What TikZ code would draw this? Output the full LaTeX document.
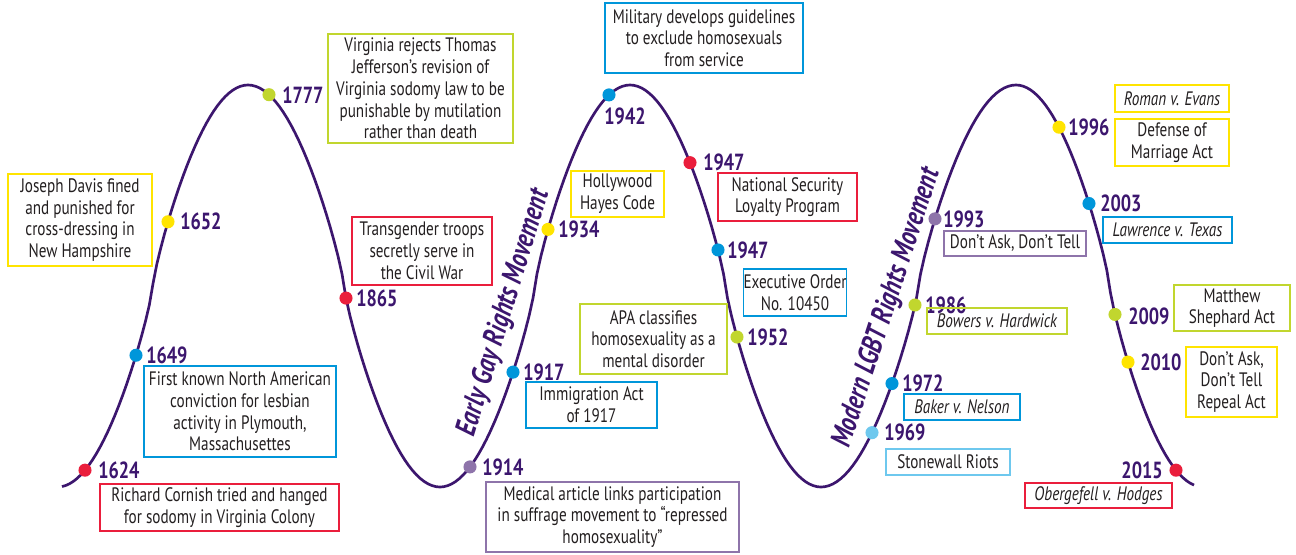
\documentclass[tikz,border=0pt]{standalone}
\usepackage{fontspec}
\setmainfont{PT Sans}[FakeStretch=0.78]
\usetikzlibrary{calc}
\definecolor{cpurple}{RGB}{60,22,110}
\definecolor{cred}{RGB}{234,30,60}
\definecolor{cblue}{RGB}{0,150,218}
\definecolor{cyellow}{RGB}{255,228,0}
\definecolor{cgreen}{RGB}{193,214,46}
\definecolor{clav}{RGB}{142,116,170}
\definecolor{clight}{RGB}{110,200,238}
\definecolor{ctext}{RGB}{35,31,32}
\begin{document}
\begin{tikzpicture}[x=0.75pt,y=-0.75pt,
  declare function={wc(\x,\m,\n)=cos((\x-\m)/\n*180);
                    wv(\x,\m,\n)=286-201*wc(\x,\m,\n)*exp(-0.18*ln(abs(wc(\x,\m,\n))+0.0001));},
  curve/.style={draw=cpurple,line width=2pt},
  dot/.style={circle,fill=#1,inner sep=0pt,minimum size=9.8pt},
  yr/.style={font=\fontsize{17.5}{19}\selectfont\bfseries,text=cpurple,inner sep=0pt},
  ev/.style={draw=#1,line width=1.2pt,inner sep=0pt,align=center,text=ctext,font=\fontsize{14.6}{16.3}\selectfont},
  evi/.style={ev=#1,font=\fontsize{14.6}{16.3}\selectfont\itshape},
  mv/.style={font=\fontsize{22}{23}\selectfont\bfseries\itshape,text=cpurple,inner sep=0pt},
]
\path[use as bounding box,fill=white] (0,0) rectangle (1296,554);

% the wave
\draw[curve] plot[domain=62:248,samples=50] (\x,{wv(\x,248,190.5)})
  -- plot[domain=248:440,samples=50] (\x,{wv(\x,248,192)})
  -- plot[domain=440:630,samples=50] (\x,{wv(\x,630,190)})
  -- plot[domain=630:821,samples=50] (\x,{wv(\x,630,191)})
  -- plot[domain=821:1016,samples=50] (\x,{wv(\x,1016,195)})
  -- plot[domain=1016:1194,samples=50] (\x,{wv(\x,1016,187)});

% movement labels
\node[mv,rotate=73] (m1) at (504,313) {Early Gay Rights Movement};
\node[mv,rotate=72] (m2) at (887,308) {Modern LGBT Rights Movement};

% dots
\node[dot=cred]    (d1624) at (85,{wv(85,248,190.5)}) {};
\node[dot=cblue]   (d1649) at (136,{wv(136,248,190.5)}) {};
\node[dot=cyellow] (d1652) at (168,{wv(168,248,190.5)}) {};
\node[dot=cgreen]  (d1777) at (269,{wv(269,248,192)}) {};
\node[dot=cred]    (d1865) at (346,{wv(346,248,192)}) {};
\node[dot=clav]    (d1914) at (470,{wv(470,630,190)}) {};
\node[dot=cblue]   (d1917) at (513,{wv(513,630,190)}) {};
\node[dot=cyellow] (d1934) at (548,{wv(548,630,190)}) {};
\node[dot=cblue]   (d1942) at (609,{wv(609,630,190)}) {};
\node[dot=cred]    (d1947a) at (690,{wv(690,630,191)}) {};
\node[dot=cblue]   (d1947b) at (718,{wv(718,630,191)}) {};
\node[dot=cgreen]  (d1952) at (737,{wv(737,630,191)}) {};
\node[dot=clight]  (d1969) at (872,{wv(872,1016,195)}) {};
\node[dot=cblue]   (d1972) at (892,{wv(892,1016,195)}) {};
\node[dot=cgreen]  (d1986) at (915,{wv(915,1016,195)}) {};
\node[dot=clav]    (d1993) at (935,{wv(935,1016,195)}) {};
\node[dot=cyellow] (d1996) at (1059,{wv(1059,1016,187)}) {};
\node[dot=cblue]   (d2003) at (1089,{wv(1089,1016,187)}) {};
\node[dot=cgreen]  (d2009) at (1115,{wv(1115,1016,187)}) {};
\node[dot=cyellow] (d2010) at (1128,{wv(1128,1016,187)}) {};
\node[dot=cred]    (d2015) at (1176,{wv(1176,1016,187)}) {};

% year labels
\node[yr,anchor=west] (y1624) at ($(d1624)+(13,0)$) {1624};
\node[yr,anchor=west] (y1649) at ($(d1649)+(10,0)$) {1649};
\node[yr,anchor=west] (y1652) at ($(d1652)+(12,0)$) {1652};
\node[yr,anchor=west] (y1777) at ($(d1777)+(13,0)$) {1777};
\node[yr,anchor=west] (y1865) at ($(d1865)+(10,0)$) {1865};
\node[yr,anchor=west] (y1914) at ($(d1914)+(12,0)$) {1914};
\node[yr,anchor=west] (y1917) at ($(d1917)+(10,0)$) {1917};
\node[yr,anchor=west] (y1934) at ($(d1934)+(10,0)$) {1934};
\node[yr] (y1942) at ($(d1942)+(16,21)$) {1942};
\node[yr,anchor=west] (y1947a) at ($(d1947a)+(13,0)$) {1947};
\node[yr,anchor=west] (y1947b) at ($(d1947b)+(9,0)$) {1947};
\node[yr,anchor=west] (y1952) at ($(d1952)+(10,0)$) {1952};
\node[yr,anchor=west] (y1969) at ($(d1969)+(12,0)$) {1969};
\node[yr,anchor=west] (y1972) at ($(d1972)+(10,0)$) {1972};
\node[yr,anchor=west] (y1986) at ($(d1986)+(10,0)$) {1986};
\node[yr,anchor=west] (y1993) at ($(d1993)+(8,0)$) {1993};
\node[yr,anchor=west] (y1996) at ($(d1996)+(9,0)$) {1996};
\node[yr,anchor=west] (y2003) at ($(d2003)+(11,0)$) {2003};
\node[yr,anchor=west] (y2009) at ($(d2009)+(13,2)$) {2009};
\node[yr,anchor=west] (y2010) at ($(d2010)+(12,0)$) {2010};
\node[yr,anchor=east] (y2015) at ($(d2015)+(-13,0)$) {2015};

% event boxes
\node[ev=cyellow,minimum width=108pt,minimum height=69pt] (b1652) at (80,220)
  {Joseph Davis fined\\and punished for\\cross-dressing in\\New Hampshire};
\node[ev=cblue,minimum width=144pt,minimum height=68.25pt] (b1649) at (240,411.5)
  {First known North American\\conviction for lesbian\\activity in Plymouth,\\Massachusettes};
\node[ev=cred,minimum width=179.25pt,minimum height=35.25pt] (b1624) at (219.5,507.5)
  {Richard Cornish tried and hanged\\for sodomy in Virginia Colony};
\node[ev=cgreen,minimum width=138.75pt,minimum height=81.75pt] (b1777) at (420.5,88.5)
  {Virginia rejects Thomas\\Jefferson’s revision of\\Virginia sodomy law to be\\punishable by mutilation\\rather than death};
\node[ev=cred,minimum width=105pt,minimum height=51pt] (b1865) at (422,251)
  {Transgender troops\\secretly serve in\\the Civil War};
\node[ev=cyellow,minimum width=69.75pt,minimum height=34.5pt] (b1934) at (617.5,194)
  {Hollywood\\Hayes Code};
\node[ev=cblue,minimum width=148.5pt,minimum height=52.5pt] (b1942) at (704,38)
  {Military develops guidelines\\to exclude homosexuals\\from service};
\node[ev=cred,minimum width=104.25pt,minimum height=36pt] (b1947a) at (787.5,197)
  {National Security\\Loyalty Program};
\node[ev=cblue,minimum width=76.5pt,minimum height=35.25pt] (b1947b) at (795,292.5)
  {Executive Order\\No. 10450};
\node[ev=cgreen,minimum width=110.25pt,minimum height=52.5pt] (b1952) at (653.5,339)
  {APA classifies\\homosexuality as a\\mental disorder};
\node[ev=cblue,minimum width=98.25pt,minimum height=34.5pt] (b1917) at (591.5,405)
  {Immigration Act\\of 1917};
\node[ev=clav,minimum width=189.75pt,minimum height=52.5pt] (b1914) at (612.5,517)
  {Medical article links participation\\in suffrage movement to “repressed\\homosexuality”};
\node[evi=cyellow,minimum width=85.5pt,minimum height=20.25pt] (b1996a) at (1172,98.5)
  {Roman v. Evans};
\node[ev=cyellow,minimum width=85.5pt,minimum height=35.25pt] (b1996b) at (1172,142.5)
  {Defense of\\Marriage Act};
\node[evi=cblue,minimum width=96.75pt,minimum height=19.5pt] (b2003) at (1167.5,230)
  {Lawrence v. Texas};
\node[ev=clav,minimum width=106.5pt,minimum height=18.75pt] (b1993) at (1015,243.5)
  {Don’t Ask, Don’t Tell};
\node[evi=cgreen,minimum width=105pt,minimum height=19.5pt] (b1986) at (997,321)
  {Bowers v. Hardwick};
\node[ev=cgreen,minimum width=87pt,minimum height=34.5pt] (b2009) at (1232,308)
  {Matthew\\Shephard Act};
\node[ev=cyellow,minimum width=68.25pt,minimum height=52.5pt] (b2010) at (1231.5,382)
  {Don’t Ask,\\Don’t Tell\\Repeal Act};
\node[evi=cblue,minimum width=87pt,minimum height=19.5pt] (b1972) at (962,407)
  {Baker v. Nelson};
\node[ev=clight,minimum width=93pt,minimum height=19.5pt] (b1969) at (948,462)
  {Stonewall Riots};
\node[evi=cred,minimum width=110.25pt,minimum height=18.75pt] (b2015) at (1098.5,495.5)
  {Obergefell v. Hodges};
\end{tikzpicture}
\end{document}
